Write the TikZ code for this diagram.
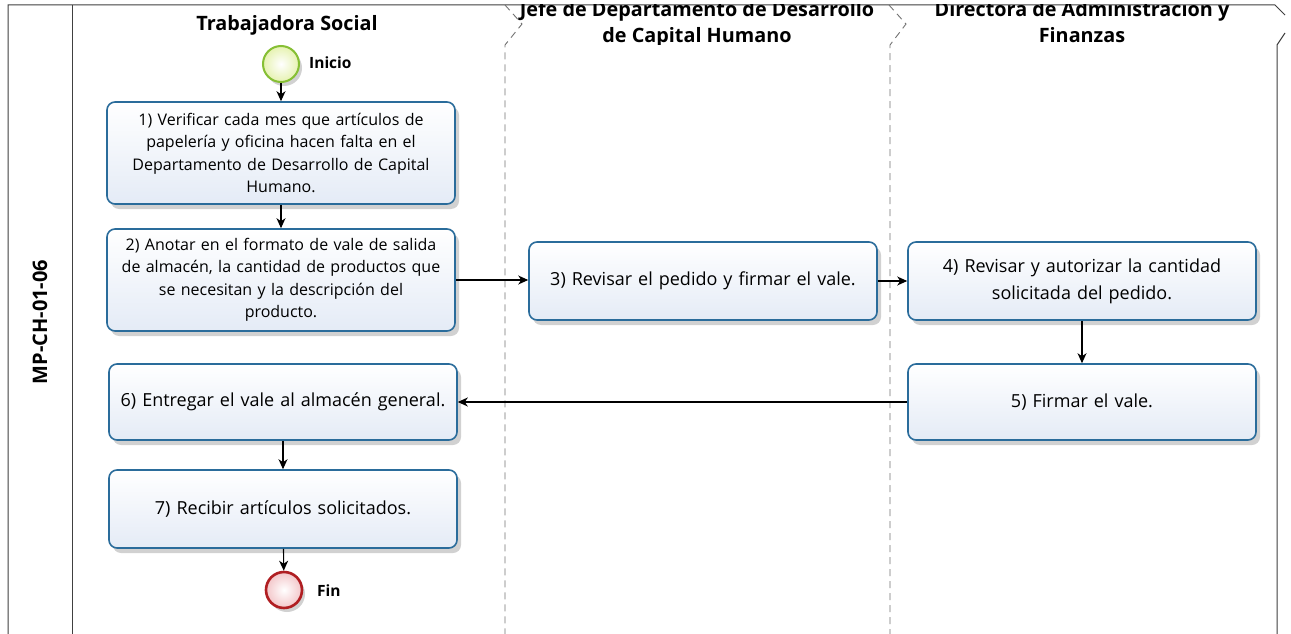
\documentclass[tikz,border=0pt]{standalone}
\usepackage{fontspec}
\setmainfont{Open Sans}
\usetikzlibrary{shadows,arrows.meta}
\definecolor{boxborder}{HTML}{2A6C9B}
\definecolor{boxfill}{HTML}{E4EBF6}
\definecolor{startb}{HTML}{86BF34}
\definecolor{startf}{HTML}{E6F2B0}
\definecolor{endb}{HTML}{B01E22}
\definecolor{endf}{HTML}{F3C6C9}
\tikzset{
  box/.style={draw=boxborder, line width=1.6pt, rounded corners=8pt,
    top color=white, bottom color=boxfill, align=center,
    minimum width=348pt, text width=340pt, inner sep=0pt,
    font=\fontsize{16}{22.5}\selectfont,
    drop shadow={shadow xshift=4pt, shadow yshift=-5pt, opacity=0.18, fill=black}},
  startev/.style={circle, draw=startb, line width=2pt, inner sep=0pt, minimum size=36pt,
    inner color=white, outer color=startf,
    drop shadow={shadow xshift=3pt, shadow yshift=-4pt, opacity=0.18, fill=black}},
  endev/.style={circle, draw=endb, line width=2.6pt, inner sep=0pt, minimum size=36pt,
    inner color=white, outer color=endf,
    drop shadow={shadow xshift=3pt, shadow yshift=-4pt, opacity=0.18, fill=black}},
  evlabel/.style={font=\bfseries\fontsize{15.5}{17}\selectfont, anchor=west, inner sep=0pt},
  lanetitle/.style={font=\bfseries\fontsize{19.8}{26}\selectfont, anchor=base, inner sep=0pt},
  frameline/.style={draw=black!75, line width=1pt},
  lanesep/.style={draw=black!55, line width=0.9pt, dash pattern=on 7pt off 5pt},
  flow/.style={draw=black, line width=1.1pt, -{Stealth[length=10pt,width=9pt,inset=3pt]}}
}
\begin{document}
\begin{tikzpicture}[x=1pt,y=-1pt]
\useasboundingbox (0,0) rectangle (1291,634);
\fill[white] (0,0) rectangle (1291,634);
% frame
\draw[frameline] (8,634) -- (8,5) -- (1275,5) -- (1285,15);
\draw[frameline] (1285,33) -- (1277,45) -- (1277,634);
\draw[frameline] (72,5) -- (72,634);
% lane separators
\draw[lanesep] (505,5) -- (522,24) -- (505,45) -- (505,634);
\draw[lanesep] (889,5) -- (906,24) -- (890,45) -- (890,634);
% pool label
\node[rotate=90, font=\bfseries\fontsize{20}{22}\selectfont, inner sep=0pt] (pool) at (40,322) {MP-CH-01-06};
% lane titles
\node[lanetitle] (t1) at (287,31) {Trabajadora Social};
\begin{scope}
\clip (72,5) rectangle (1291,44.5);
\node[lanetitle] (t2a) at (697,17) {Jefe de Departamento de Desarrollo};
\node[lanetitle] (t2b) at (697,43) {de Capital Humano};
\node[lanetitle] (t3a) at (1082,17) {Directora de Administración y};
\node[lanetitle] (t3b) at (1082,43) {Finanzas};
\end{scope}
% events
\node[startev] (start) at (281,64) {};
\node[evlabel] (startl) at (309,63) {Inicio};
\node[endev] (fin) at (284,590) {};
\node[evlabel] (finl) at (317,591) {Fin};
% tasks
\node[box, minimum height=102pt] (b1) at (281,153) {\raisebox{-2pt}{}1) Verificar cada mes que artículos de\\papelería y oficina hacen falta en el\\Departamento de Desarrollo de Capital\\Humano.};
\node[box, minimum height=102pt] (b2) at (281,280) {2) Anotar en el formato de vale de salida\\de almacén, la cantidad de productos que\\se necesitan y la descripción del\\producto.};
\node[box, minimum height=78pt, font=\fontsize{18}{23}\selectfont] (b3) at (703,281) {3) Revisar el pedido y firmar el vale.};
\node[box, minimum height=78pt, font=\fontsize{18}{27}\selectfont] (b4) at (1082,281) {4) Revisar y autorizar la cantidad\\solicitada del pedido.};
\node[box, minimum height=76pt, font=\fontsize{18}{23}\selectfont] (b5) at (1082,402) {5) Firmar el vale.};
\node[box, minimum height=76pt, font=\fontsize{18}{23}\selectfont] (b6) at (283,402) {6) Entregar el vale al almacén general.};
\node[box, minimum height=78pt, font=\fontsize{18}{23}\selectfont] (b7) at (283,509) {7) Recibir artículos solicitados.};
% flows
\draw[flow] (start) -- (b1);
\draw[flow] (b1) -- (b2);
\draw[flow] (b2.east |- 0,280) -- (b3.west |- 0,280);
\draw[flow] (b3) -- (b4);
\draw[flow] (b4) -- (b5);
\draw[flow] (b5) -- (b6);
\draw[flow] (b6) -- (b7);
\draw[flow] (b7) -- (fin);
\end{tikzpicture}
\end{document}
